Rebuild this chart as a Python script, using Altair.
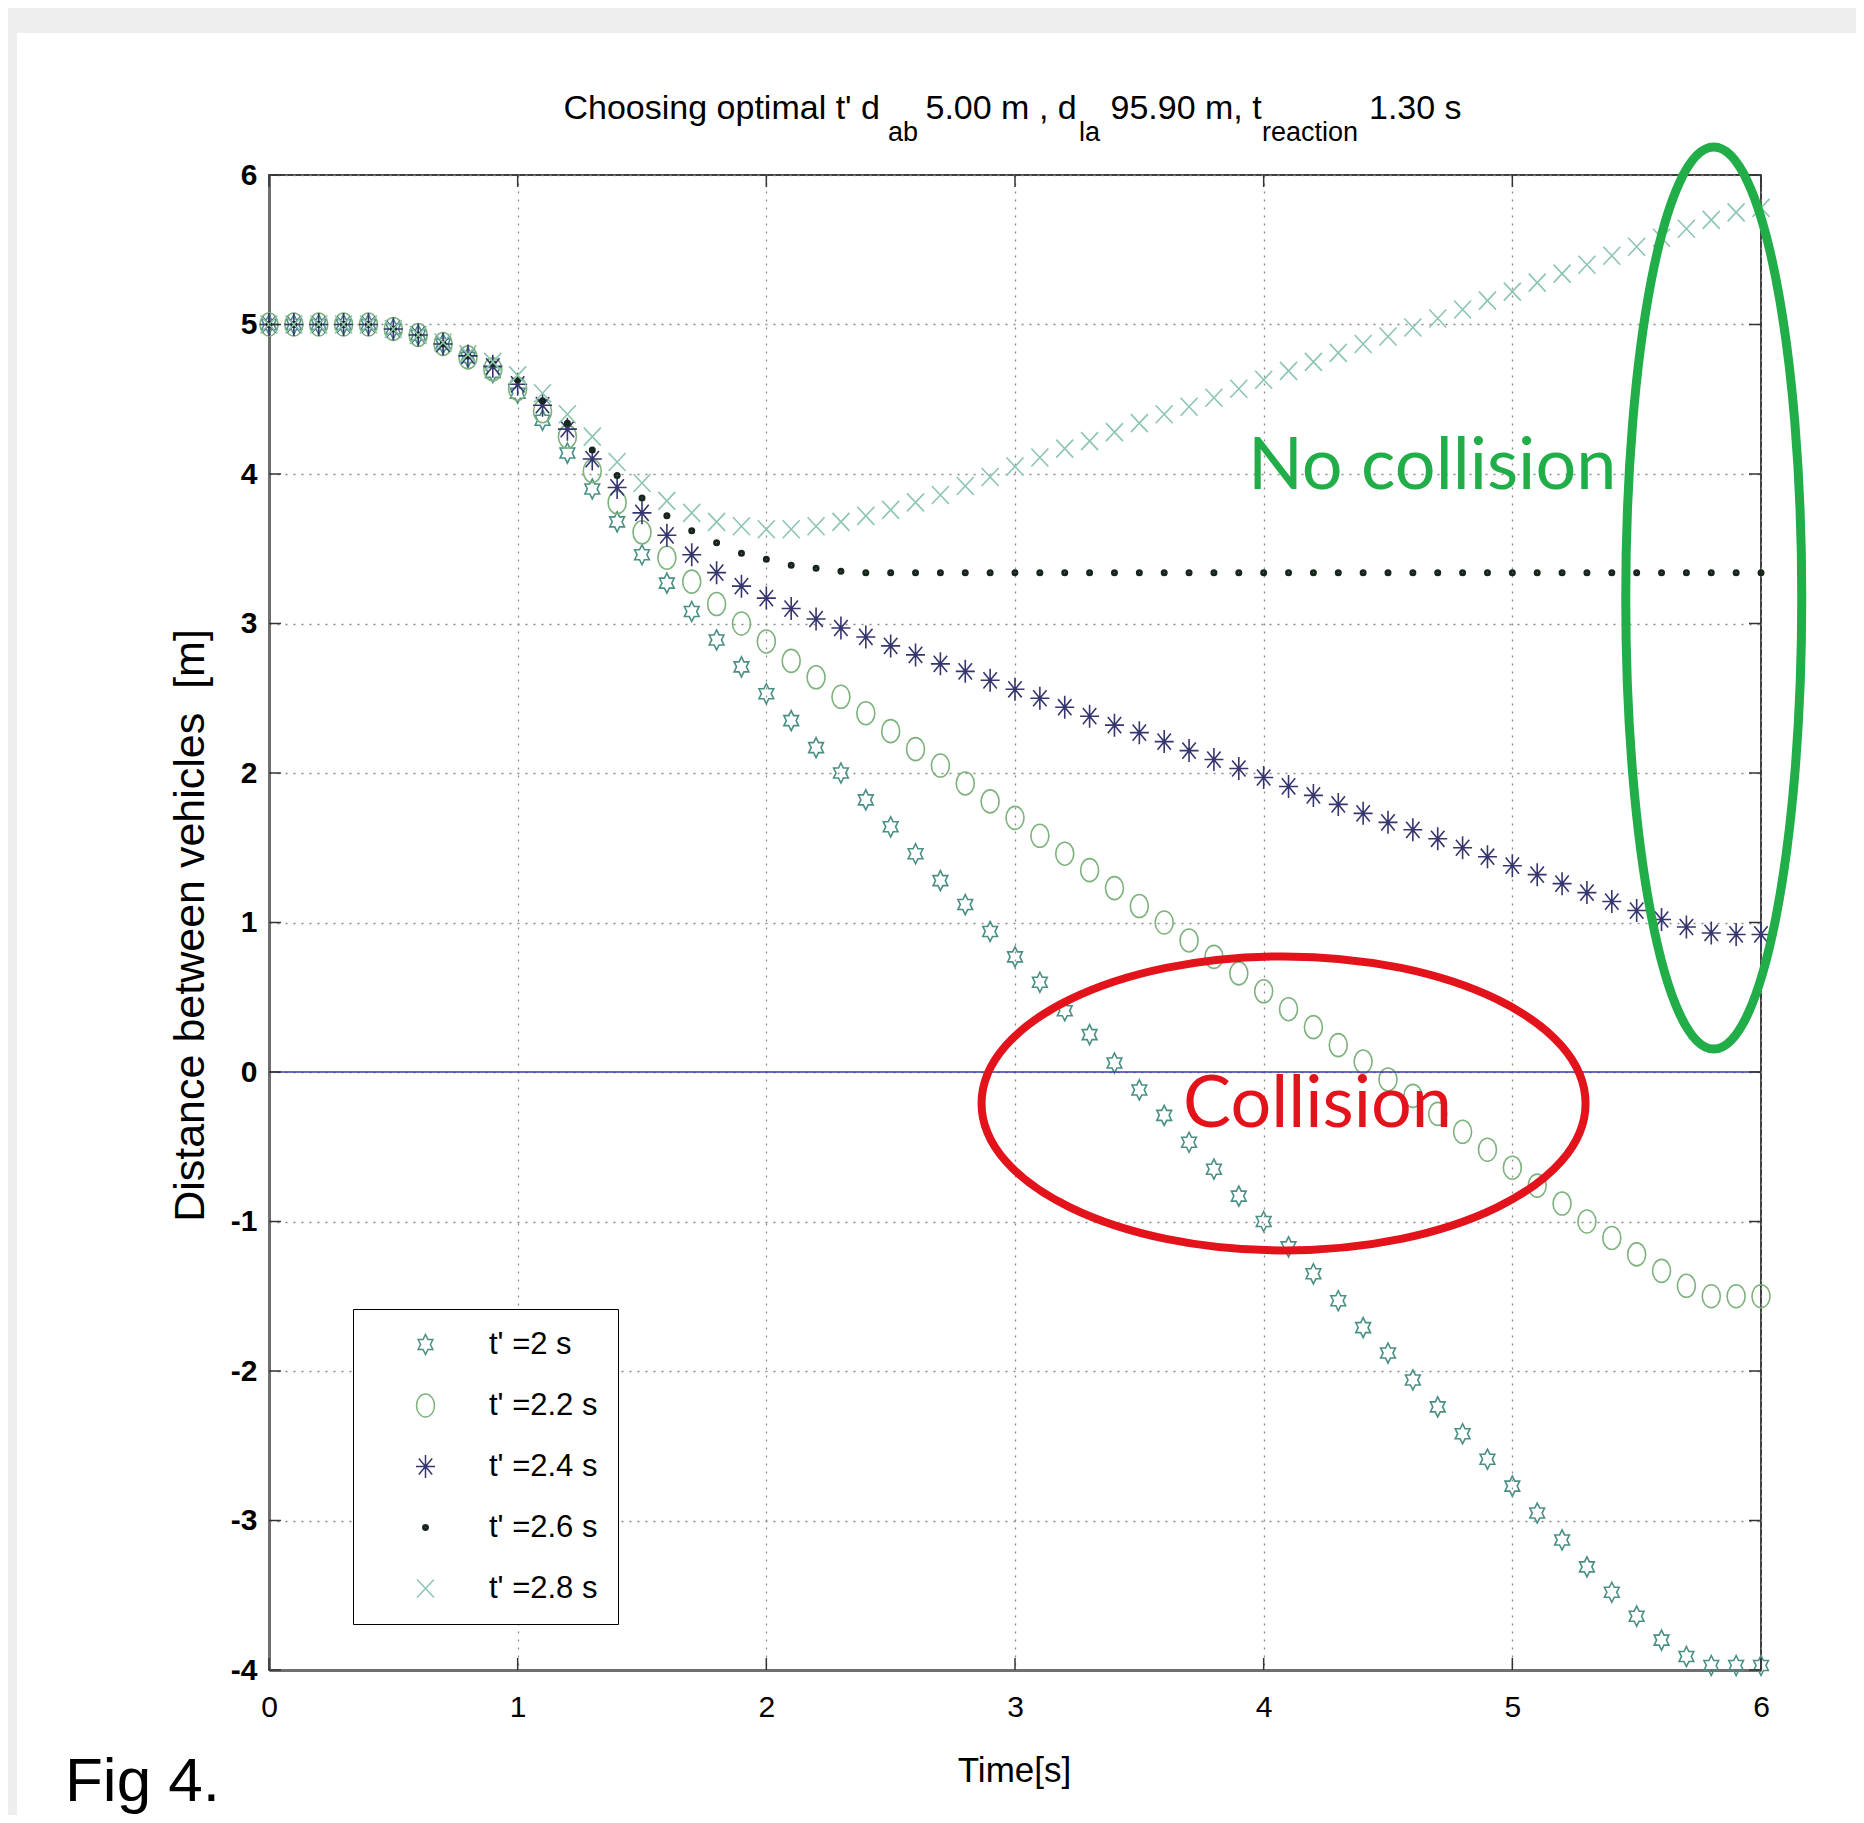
import altair as alt
import pandas as pd

# ---------------- data ----------------
time_s = [0.0, 0.1, 0.2, 0.3, 0.4, 0.5, 0.6, 0.7, 0.8, 0.9,
          1.0, 1.1, 1.2, 1.3, 1.4, 1.5, 1.6, 1.7, 1.8, 1.9,
          2.0, 2.1, 2.2, 2.3, 2.4, 2.5, 2.6, 2.7, 2.8, 2.9,
          3.0, 3.1, 3.2, 3.3, 3.4, 3.5, 3.6, 3.7, 3.8, 3.9,
          4.0, 4.1, 4.2, 4.3, 4.4, 4.5, 4.6, 4.7, 4.8, 4.9,
          5.0, 5.1, 5.2, 5.3, 5.4, 5.5, 5.6, 5.7, 5.8, 5.9, 6.0]

dist_t20 = [5.0, 5.0, 5.0, 5.0, 5.0, 4.97, 4.93, 4.87, 4.78, 4.68,
            4.54, 4.36, 4.14, 3.90, 3.68, 3.46, 3.27, 3.08, 2.89, 2.71,
            2.53, 2.35, 2.17, 2.00, 1.82, 1.64, 1.46, 1.28, 1.12, 0.94,
            0.77, 0.60, 0.41, 0.25, 0.06, -0.12, -0.29, -0.47, -0.65, -0.83,
            -1.00, -1.17, -1.35, -1.53, -1.71, -1.88, -2.06, -2.24, -2.42, -2.59,
            -2.77, -2.95, -3.13, -3.31, -3.48, -3.64, -3.80, -3.91, -3.97, -3.97, -3.97]

dist_t22 = [5.0, 5.0, 5.0, 5.0, 5.0, 4.97, 4.93, 4.87, 4.78, 4.70,
            4.57, 4.42, 4.25, 4.02, 3.81, 3.61, 3.44, 3.28, 3.13, 3.00,
            2.88, 2.75, 2.64, 2.51, 2.40, 2.28, 2.16, 2.05, 1.93, 1.81,
            1.70, 1.58, 1.46, 1.35, 1.23, 1.11, 1.00, 0.88, 0.77, 0.66,
            0.54, 0.42, 0.30, 0.18, 0.07, -0.05, -0.16, -0.28, -0.40, -0.52,
            -0.64, -0.76, -0.88, -1.00, -1.11, -1.22, -1.33, -1.43, -1.50, -1.50, -1.50]

dist_t24 = [5.0, 5.0, 5.0, 5.0, 5.0, 4.97, 4.93, 4.87, 4.79, 4.72,
            4.60, 4.46, 4.30, 4.10, 3.91, 3.74, 3.59, 3.46, 3.34, 3.25,
            3.17, 3.10, 3.03, 2.97, 2.91, 2.85, 2.79, 2.73, 2.68, 2.62,
            2.56, 2.50, 2.44, 2.38, 2.32, 2.27, 2.21, 2.15, 2.09, 2.03,
            1.97, 1.91, 1.85, 1.79, 1.73, 1.67, 1.62, 1.56, 1.50, 1.44,
            1.38, 1.32, 1.26, 1.20, 1.14, 1.08, 1.02, 0.97, 0.93, 0.92, 0.92]

dist_t26 = [5.0, 5.0, 5.0, 5.0, 5.0, 4.97, 4.93, 4.87, 4.79, 4.74,
            4.63, 4.49, 4.34, 4.16, 3.99, 3.84, 3.72, 3.62, 3.54, 3.47,
            3.43, 3.39, 3.37, 3.35, 3.34, 3.34, 3.34, 3.34, 3.34, 3.34,
            3.34, 3.34, 3.34, 3.34, 3.34, 3.34, 3.34, 3.34, 3.34, 3.34,
            3.34, 3.34, 3.34, 3.34, 3.34, 3.34, 3.34, 3.34, 3.34, 3.34,
            3.34, 3.34, 3.34, 3.34, 3.34, 3.34, 3.34, 3.34, 3.34, 3.34, 3.34]

dist_t28 = [5.0, 5.0, 5.0, 5.0, 5.0, 4.97, 4.93, 4.88, 4.80, 4.75,
            4.66, 4.54, 4.40, 4.25, 4.08, 3.94, 3.82, 3.74, 3.68, 3.65,
            3.63, 3.63, 3.65, 3.68, 3.72, 3.76, 3.81, 3.86, 3.92, 3.98,
            4.05, 4.11, 4.17, 4.22, 4.28, 4.34, 4.40, 4.45, 4.51, 4.57,
            4.63, 4.69, 4.75, 4.81, 4.87, 4.92, 4.98, 5.04, 5.10, 5.16,
            5.22, 5.28, 5.34, 5.40, 5.46, 5.52, 5.58, 5.64, 5.70, 5.75, 5.78]

series_labels = ["t' =2 s", "t' =2.2 s", "t' =2.4 s", "t' =2.6 s", "t' =2.8 s"]
series_values = [dist_t20, dist_t22, dist_t24, dist_t26, dist_t28]
series_colors = ["#4a8f84", "#7db27c", "#35356f", "#16261c", "#8cc6b0"]

x_ticks = [0, 1, 2, 3, 4, 5, 6]
y_ticks = [-4, -3, -2, -1, 0, 1, 2, 3, 4, 5, 6]

# annotation ellipses (centre in data units)
red_centre = {"t": [4.08], "d": [-0.21]}
green_centre = {"t": [5.81], "d": [3.17]}

rows = []
for lab, vals in zip(series_labels, series_values):
    for t, v in zip(time_s, vals):
        rows.append({"time": t, "dist": v, "series": lab, "ord": series_labels.index(lab)})
df = pd.DataFrame(rows)

# ---------------- styling ----------------
PW, PH = 1492, 1495
SANS = "Liberation Sans, Arial, Helvetica, sans-serif"
CAL = "Lato, Carlito, Calibri, Open Sans, sans-serif"

# marker symbol paths (pixel units, used with size=4)
HEXAGRAM = ("M 0 -10 L 2.45 -5 L 7.36 -5 L 4.91 0 L 7.36 5 L 2.45 5 L 0 10 "
            "L -2.45 5 L -7.36 5 L -4.91 0 L -7.36 -5 L -2.45 -5 Z")
OVAL = "M -9 0 A 9 11.5 0 1 1 9 0 A 9 11.5 0 1 1 -9 0 Z"
ASTER = "M -9.5 0 L 9.5 0 M 0 -11.5 L 0 11.5 M -6.7 -8.1 L 6.7 8.1 M -6.7 8.1 L 6.7 -8.1"
DOT = ("M -2.7 0 A 2.7 2.7 0 1 1 2.7 0 A 2.7 2.7 0 1 1 -2.7 0 "
       "M -1.4 0 A 1.4 1.4 0 1 1 1.4 0 A 1.4 1.4 0 1 1 -1.4 0 "
       "M -0.4 0 A 0.4 0.4 0 1 1 0.4 0 A 0.4 0.4 0 1 1 -0.4 0")
XMARK = "M -8.5 -9 L 8.5 9 M -8.5 9 L 8.5 -9"
series_shapes = [HEXAGRAM, OVAL, ASTER, DOT, XMARK]

RED_ELL = "M -302 0 A 302 147 0 1 1 302 0 A 302 147 0 1 1 -302 0 Z"
GREEN_ELL = "M -88 0 A 88 451 0 1 1 88 0 A 88 451 0 1 1 -88 0 Z"

xscale = alt.Scale(domain=[0, 6], nice=False, zero=False)
yscale = alt.Scale(domain=[-4, 6], nice=False, zero=False)

legend = alt.Legend(
    title=None, orient="none", legendX=84, legendY=1134,
    padding=20, rowPadding=29, symbolSize=4, symbolStrokeWidth=1.5,
    symbolOffset=37, labelOffset=48,
    labelFont=SANS, labelFontSize=31, labelColor="black",
    strokeColor="black", fillColor="white",
)

x_axis = alt.Axis(
    values=x_ticks, title="Time[s]", grid=True, ticks=False,
    labelExpr="'' + datum.value",
    labelFont=SANS, labelFontSize=30, labelPadding=22, labelColor="black",
    labelFlush=False, labelOverlap=False,
    domainColor="#6f6f6f", domainWidth=3,
    gridColor="#8a8a8a", gridDash=[2, 6], gridWidth=1.3,
    titleFont=SANS, titleFontSize=35, titleFontWeight="normal", titleColor="black",
    titleX=745, titleY=100, titleBaseline="middle", titleAlign="center",
)
y_axis = alt.Axis(
    values=y_ticks, title="Distance between vehicles \u00a0[m]", grid=True, ticks=False,
    labelExpr="'' + datum.value",
    labelFont=SANS, labelFontSize=30, labelFontWeight="bold", labelPadding=12, labelColor="black",
    labelFlush=False, labelOverlap=False,
    domainColor="#6f6f6f", domainWidth=3,
    gridColor="#8a8a8a", gridDash=[2, 6], gridWidth=1.3,
    titleFont=SANS, titleFontSize=43, titleFontWeight="normal", titleColor="black",
    titleX=-79, titleY=750, titleAngle=270, titleBaseline="middle", titleAlign="center",
)

# grey strips at top and left of the page
grey_top = alt.Chart(pd.DataFrame({"k": ["top"]})).mark_rect(color="#eeeeee").encode(
    x=alt.value(-300), x2=alt.value(PW + 300), y=alt.value(-300), y2=alt.value(-142))
grey_left = alt.Chart(pd.DataFrame({"k": ["left"]})).mark_rect(color="#eeeeee").encode(
    x=alt.value(-300), x2=alt.value(-252), y=alt.value(-300), y2=alt.value(PH + 300))

points = alt.Chart(df).mark_point(filled=False, size=4, strokeWidth=1.6, opacity=1).encode(
    x=alt.X("time:Q", scale=xscale, axis=x_axis),
    y=alt.Y("dist:Q", scale=yscale, axis=y_axis),
    color=alt.Color("series:N", scale=alt.Scale(domain=series_labels, range=series_colors), legend=legend),
    shape=alt.Shape("series:N", scale=alt.Scale(domain=series_labels, range=series_shapes), legend=legend),
    order=alt.Order("ord:Q"),
)

zero_line = alt.Chart(pd.DataFrame({"dist": [0]})).mark_rule(color="#3a3aa8", strokeWidth=1.5).encode(
    y=alt.Y("dist:Q", scale=yscale, axis=y_axis))

tx = pd.DataFrame({"time": x_ticks})
ty = pd.DataFrame({"dist": y_ticks})
tick_b = alt.Chart(tx).mark_rule(color="#333333", strokeWidth=1.5).encode(
    x=alt.X("time:Q", scale=xscale, axis=x_axis), y=alt.value(PH), y2=alt.value(PH - 12))
tick_t = alt.Chart(tx).mark_rule(color="#333333", strokeWidth=1.5).encode(
    x=alt.X("time:Q", scale=xscale, axis=x_axis), y=alt.value(0), y2=alt.value(12))
tick_l = alt.Chart(ty).mark_rule(color="#333333", strokeWidth=1.5).encode(
    y=alt.Y("dist:Q", scale=yscale, axis=y_axis), x=alt.value(0), x2=alt.value(12))
tick_r = alt.Chart(ty).mark_rule(color="#333333", strokeWidth=1.5).encode(
    y=alt.Y("dist:Q", scale=yscale, axis=y_axis), x=alt.value(PW), x2=alt.value(PW - 12))

red_ell = alt.Chart(pd.DataFrame({"time": red_centre["t"], "dist": red_centre["d"]})).mark_point(
    shape=RED_ELL, size=4, filled=False, strokeWidth=8, color="#e3131b", opacity=1).encode(
    x=alt.X("time:Q", scale=xscale, axis=x_axis), y=alt.Y("dist:Q", scale=yscale, axis=y_axis))
green_ell = alt.Chart(pd.DataFrame({"time": green_centre["t"], "dist": green_centre["d"]})).mark_point(
    shape=GREEN_ELL, size=4, filled=False, strokeWidth=9, color="#21ad48", opacity=1).encode(
    x=alt.X("time:Q", scale=xscale, axis=x_axis), y=alt.Y("dist:Q", scale=yscale, axis=y_axis))


def label(text, px, py, font, size, color="black", weight="normal"):
    return alt.Chart(pd.DataFrame({"s": [text]})).mark_text(
        align="left", baseline="alphabetic", font=font, fontSize=size,
        fontWeight=weight, color=color).encode(
        x=alt.value(px), y=alt.value(py), text=alt.Text("s:N"))


texts = [
    label("No collision", 979, 314, CAL, 72, "#21ad48"),
    label("Collision", 914, 952, CAL, 72, "#e3131b"),
    label("Fig 4.", -204, 1626, SANS, 62),
    label("Choosing optimal t' d", 294.5, -56, SANS, 34),
    label("ab", 619, -34, SANS, 27),
    label("5.00 m , d", 656.5, -56, SANS, 34),
    label("la", 810, -34, SANS, 27),
    label("95.90 m, t", 841.5, -56, SANS, 34),
    label("reaction", 993, -34, SANS, 27),
    label("1.30 s", 1100, -56, SANS, 34),
]

chart = alt.layer(
    grey_top, grey_left, points, zero_line, red_ell, green_ell,
    tick_b, tick_t, tick_l, tick_r, *texts
).properties(
    width=PW, height=PH,
    autosize=alt.AutoSizeParams(type="none"),
    padding={"left": 261, "top": 167, "right": 95, "bottom": 145},
).configure(background="white").configure_view(stroke="black", strokeWidth=1.5)

chart.save("out.html", embed_options={"renderer": "svg", "actions": False})
